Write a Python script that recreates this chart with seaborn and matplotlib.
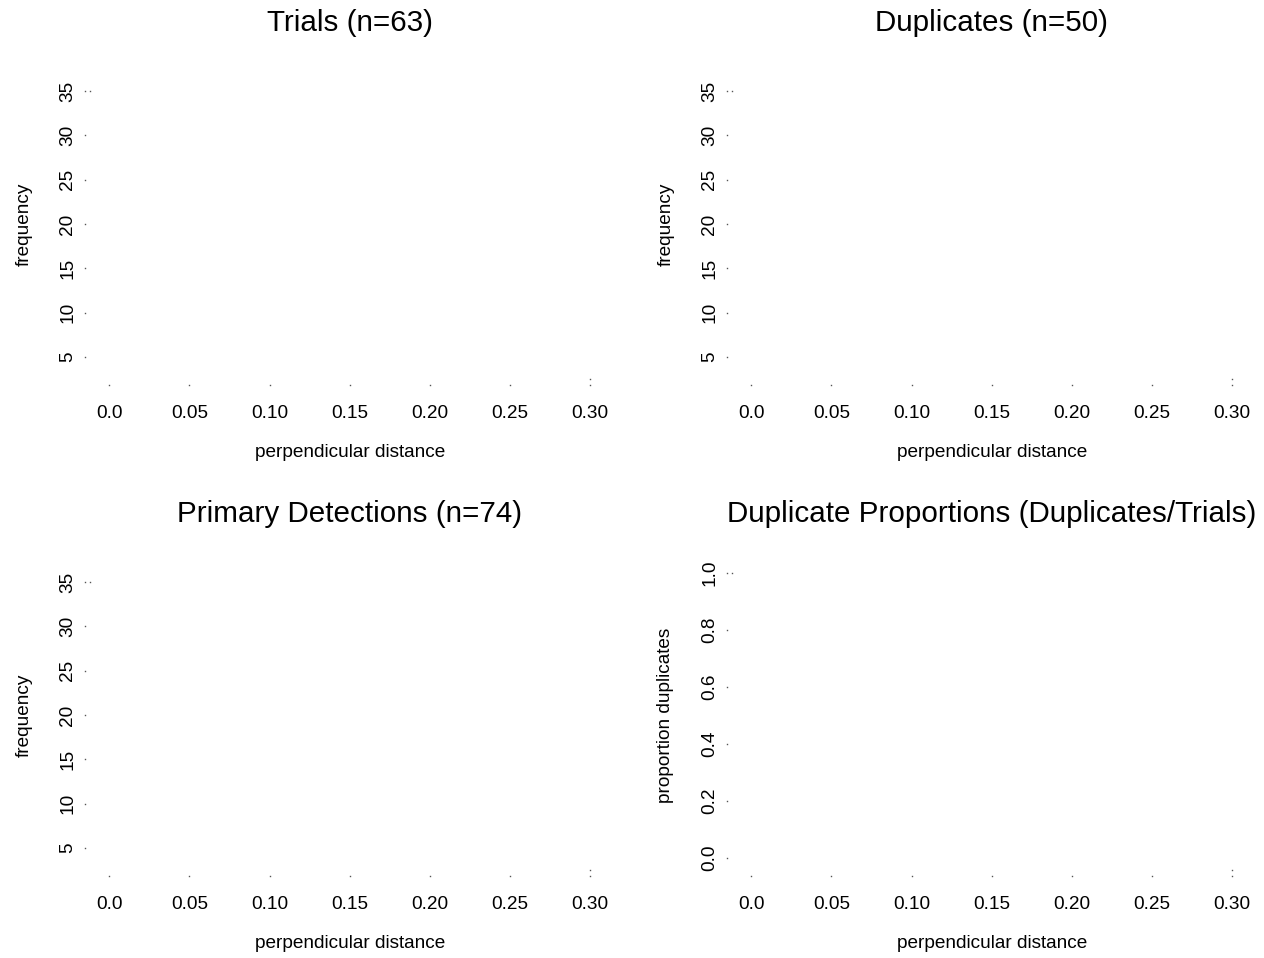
import matplotlib
matplotlib.use("Agg")
import matplotlib.pyplot as plt
from matplotlib.transforms import offset_copy
import seaborn as sns

# ---- data -----------------------------------------------------------
n_trials = 63
n_duplicates = 50
n_primary = 74

dist_ticks = [0.0, 0.05, 0.10, 0.15, 0.20, 0.25, 0.30]
dist_tick_labels = ["0.0", "0.05", "0.10", "0.15", "0.20", "0.25", "0.30"]

freq_ticks = [5, 10, 15, 20, 25, 30, 35]
freq_tick_labels = ["5", "10", "15", "20", "25", "30", "35"]

prop_ticks = [0.0, 0.2, 0.4, 0.6, 0.8, 1.0]
prop_tick_labels = ["0.0", "0.2", "0.4", "0.6", "0.8", "1.0"]

freq_limits = (2.59, 37.3)
prop_limits = (-0.04, 1.04)
dist_limits = (-0.012, 0.312)

# ---- style ----------------------------------------------------------
sns.set_style("white")
plt.rcParams["font.family"] = ["Liberation Sans", "DejaVu Sans"]
plt.rcParams["text.color"] = "black"
plt.rcParams["axes.labelcolor"] = "black"

W, H = 1264, 958
fig = plt.figure(figsize=(W / 100, H / 100), dpi=100)

TITLE_SIZE = 21.3
LABEL_SIZE = 13.7
DOT = "#555555"
DOT_SIZE = 1.0


def fx(px):
    return px / W


def fy(py):
    return 1 - py / H


def dots(ax, xs, ys, transform):
    ax.plot(xs, ys, ls="none", marker="s", ms=DOT_SIZE, mfc=DOT, mec="none",
            transform=transform, clip_on=False)


def panel(left, top, right, bottom, title, ylabel, yticks, ylabels, ylim):
    ax = fig.add_axes([fx(left), fy(bottom), (right - left) / W, (bottom - top) / H])
    ax.set_xlim(*dist_limits)
    ax.set_ylim(*ylim)
    ax.set_xticks(dist_ticks, dist_tick_labels)
    ax.set_yticks(yticks, ylabels)
    ax.tick_params(length=0, labelsize=LABEL_SIZE, labelcolor="black")
    ax.tick_params(axis="x", pad=19.5)
    ax.tick_params(axis="y", pad=10)
    for lab in ax.get_yticklabels():
        lab.set_rotation(90)
        lab.set_va("center")
    ax.grid(False)
    sns.despine(ax=ax, left=True, bottom=True, top=True, right=True)

    # dotted tick marks
    xt = offset_copy(ax.get_xaxis_transform(), fig=fig, x=0, y=-7, units="dots")
    dots(ax, dist_ticks, [0] * len(dist_ticks), xt)
    xe = offset_copy(ax.get_xaxis_transform(), fig=fig, x=0, y=-1, units="dots")
    dots(ax, [dist_ticks[-1]], [0], xe)
    yt = offset_copy(ax.get_yaxis_transform(), fig=fig, x=-5.5, y=0, units="dots")
    dots(ax, [0] * len(yticks), yticks, yt)
    dots(ax, [0], [yticks[-1]], ax.get_yaxis_transform())

    cx = (left + right) / 2
    cy = (top + bottom) / 2
    fig.text(fx(cx), fy(top - 47.5), title, ha="center", va="center", fontsize=TITLE_SIZE)
    fig.text(fx(cx), fy(bottom + 74.5), "perpendicular distance",
             ha="center", va="center", fontsize=LABEL_SIZE)
    fig.text(fx(left - 66), fy(cy), ylabel, ha="center", va="center",
             rotation=90, fontsize=LABEL_SIZE)
    return ax


L1, R1 = 90, 609.5
L2, R2 = 732, 1251.5
T1, B1 = 70.6, 378.4
T2, B2 = 561.6, 869.4

panel(L1, T1, R1, B1, f"Trials (n={n_trials})", "frequency",
      freq_ticks, freq_tick_labels, freq_limits)
panel(L2, T1, R2, B1, f"Duplicates (n={n_duplicates})", "frequency",
      freq_ticks, freq_tick_labels, freq_limits)
panel(L1, T2, R1, B2, f"Primary Detections (n={n_primary})", "frequency",
      freq_ticks, freq_tick_labels, freq_limits)
panel(L2, T2, R2, B2, "Duplicate Proportions (Duplicates/Trials)", "proportion duplicates",
      prop_ticks, prop_tick_labels, prop_limits)

fig.savefig("out.png", dpi=100)
